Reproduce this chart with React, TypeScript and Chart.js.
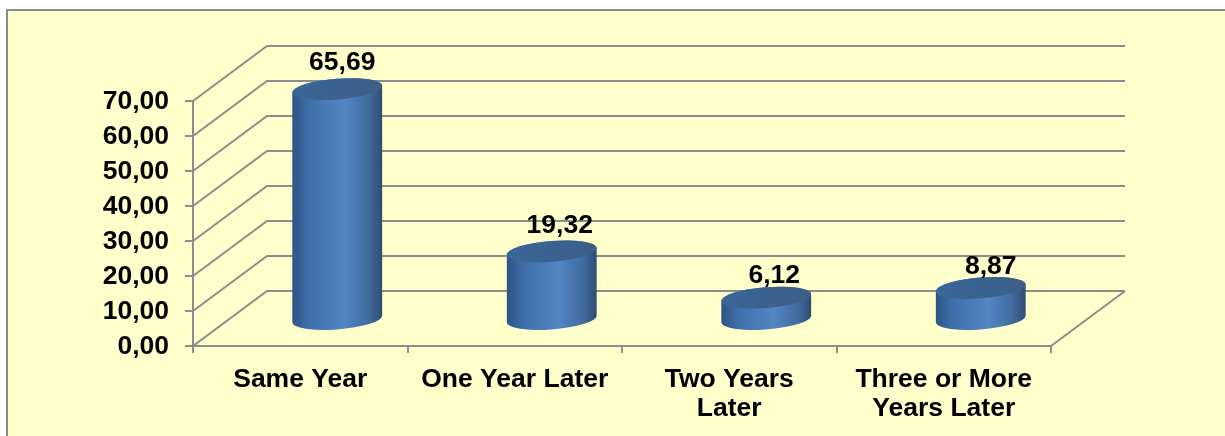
import React, { useEffect, useRef } from "react";
import { Chart, registerables } from "chart.js";

Chart.register(...registerables);

const categories = [["Same Year"], ["One Year Later"], ["Two Years", "Later"], ["Three or More", "Years Later"]];
const values = [65.69, 19.32, 6.12, 8.87];
const valueLabels = ["65,69", "19,32", "6,12", "8,87"];
const labelNudgeX = [5, 8, 8, 10];
const labelNudgeY = [-26, -26, -22, -21];
const yMax = 70;
const yStep = 10;

const WIDTH = 1225;
const HEIGHT = 436;
const LINE = "#8C8C8C";
const FONT = "bold 26.5px 'Liberation Sans', Arial, sans-serif";
const DEPTH_X = 74;
const DEPTH_Y = 55;
const TILT = (-4.5 * Math.PI) / 180;
const MINOR = 10.4;

const scene = {
  id: "scene",
  beforeDraw(chart: any) {
    const { ctx } = chart;
    ctx.save();
    ctx.fillStyle = "#ffffff";
    ctx.fillRect(0, 0, WIDTH, HEIGHT);
    ctx.fillStyle = "#FFFFCC";
    ctx.fillRect(7, 10, WIDTH, HEIGHT);
    ctx.strokeStyle = LINE;
    ctx.lineWidth = 2;
    ctx.beginPath();
    ctx.moveTo(7, HEIGHT + 2);
    ctx.lineTo(7, 10);
    ctx.lineTo(WIDTH + 2, 10);
    ctx.stroke();
    ctx.restore();
  },
  beforeDatasetsDraw(chart: any) {
    const { ctx, chartArea, scales } = chart;
    const { left, right, bottom } = chartArea;
    ctx.save();
    ctx.strokeStyle = LINE;
    ctx.lineWidth = 2;
    ctx.lineJoin = "miter";
    scales.y.ticks.forEach((t: any) => {
      const y = scales.y.getPixelForValue(t.value);
      ctx.beginPath();
      ctx.moveTo(left, y);
      ctx.lineTo(left + DEPTH_X, y - DEPTH_Y);
      ctx.lineTo(right + DEPTH_X, y - DEPTH_Y);
      ctx.stroke();
    });
    ctx.beginPath();
    ctx.moveTo(right, bottom);
    ctx.lineTo(right + DEPTH_X, bottom - DEPTH_Y);
    ctx.stroke();
    ctx.restore();
  },
  afterDatasetsDraw(chart: any) {
    const { ctx } = chart;
    const meta = chart.getDatasetMeta(0);
    const tR = Math.atan((-MINOR / 45) * Math.tan(TILT));
    meta.data.forEach((el: any, i: number) => {
      const a = el.width / 2;
      const cx = el.x + DEPTH_X / 2;
      const baseY = el.base - 26;
      const topY = el.y - 27;
      const body = ctx.createLinearGradient(cx - a, 0, cx + a, 0);
      body.addColorStop(0, "#2C5385");
      body.addColorStop(0.18, "#3F6FA9");
      body.addColorStop(0.58, "#5386C6");
      body.addColorStop(0.85, "#406C9F");
      body.addColorStop(1, "#2F4C72");
      ctx.save();
      ctx.beginPath();
      ctx.ellipse(cx, baseY, a, MINOR, TILT, tR, tR + Math.PI, false);
      ctx.ellipse(cx, topY, a, MINOR, TILT, tR + Math.PI, tR + 2 * Math.PI, false);
      ctx.closePath();
      ctx.fillStyle = body;
      ctx.fill();
      const lid = ctx.createLinearGradient(cx - a, 0, cx + a, 0);
      lid.addColorStop(0, "#3A6699");
      lid.addColorStop(1, "#3C5F88");
      ctx.beginPath();
      ctx.ellipse(cx, topY, a, MINOR, TILT, 0, 2 * Math.PI);
      ctx.fillStyle = lid;
      ctx.fill();
      ctx.fillStyle = "#000000";
      ctx.font = FONT;
      ctx.textAlign = "center";
      ctx.textBaseline = "middle";
      ctx.fillText(valueLabels[i], cx + labelNudgeX[i], topY + labelNudgeY[i]);
      ctx.restore();
    });
  },
};

export default function App() {
  const ref = useRef<HTMLCanvasElement>(null);
  useEffect(() => {
    document.body.style.margin = "0";
    const tickFont = { family: "'Liberation Sans', Arial, sans-serif", size: 26.5, weight: "bold" as const, lineHeight: 1.1 };
    const chart = new Chart(ref.current!, {
      type: "bar",
      data: {
        labels: categories,
        datasets: [
          {
            data: values,
            backgroundColor: "rgba(0,0,0,0)",
            borderWidth: 0,
            barPercentage: 0.42,
            categoryPercentage: 1,
          },
        ],
      },
      plugins: [scene],
      options: {
        animation: false,
        responsive: false,
        events: [],
        layout: { padding: { left: 0, top: 101, right: 174, bottom: 0 } },
        plugins: { legend: { display: false }, tooltip: { enabled: false }, title: { display: false } },
        scales: {
          x: {
            afterFit: (s: any) => {
              s.height = 90;
            },
            border: { color: LINE, width: 2 },
            grid: { color: LINE, lineWidth: 2, drawOnChartArea: false, tickLength: 7, tickColor: LINE },
            ticks: { color: "#000000", font: tickFont, autoSkip: false, maxRotation: 0, minRotation: 0, padding: 12 },
          },
          y: {
            min: 0,
            max: yMax,
            afterFit: (s: any) => {
              s.width = 193;
            },
            border: { color: LINE, width: 2 },
            grid: { color: LINE, lineWidth: 2, drawOnChartArea: false, tickLength: 8, tickColor: LINE },
            ticks: {
              stepSize: yStep,
              color: "#000000",
              font: tickFont,
              padding: 16,
              labelOffset: 1,
              callback: (v: any) => Number(v).toFixed(2).replace(".", ","),
            },
          },
        },
      },
    });
    return () => chart.destroy();
  }, []);
  return <canvas ref={ref} width={WIDTH} height={HEIGHT} style={{ display: "block" }} />;
}
